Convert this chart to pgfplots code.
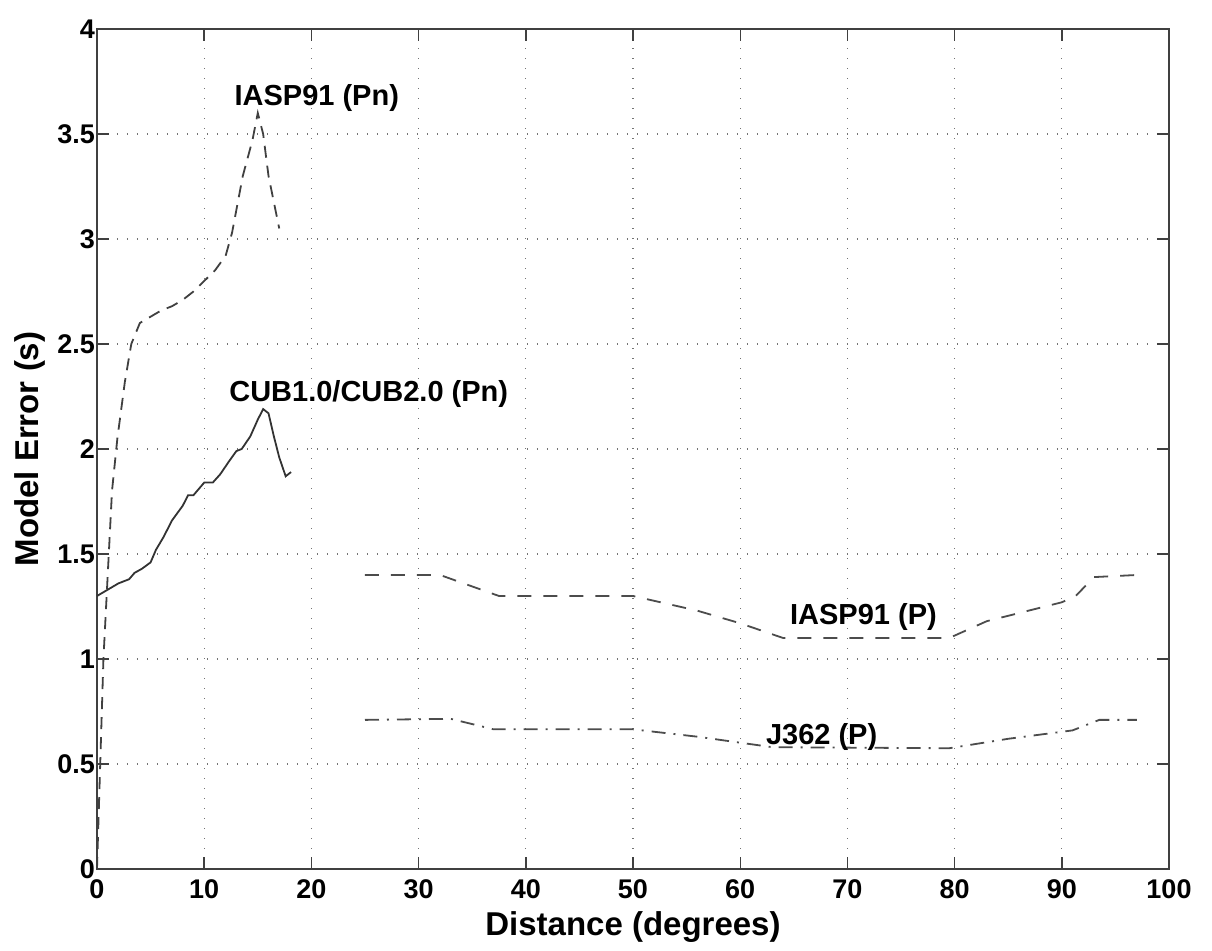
\documentclass[border=0pt]{standalone}
\usepackage{fontspec}
\setmainfont{Liberation Sans}
\usepackage{pgfplots}
\pgfplotsset{compat=1.18}

\begin{document}
\begin{tikzpicture}
\begin{axis}[
  scale only axis,
  width=536pt, height=420pt,
  xmin=0, xmax=100, ymin=0, ymax=4,
  xtick={0,10,...,100},
  ytick={0,0.5,...,4},
  yticklabels={0,0.5,1,1.5,2,2.5,3,3.5,4},
  tick align=inside,
  tick pos=both,
  major tick length=6pt,
  axis line style={black!75, line width=0.9pt},
  every tick/.style={black!75, line width=0.7pt},
  grid=major,
  major grid style={black!55, line width=0.6pt, dash pattern=on 0.6pt off 4.4pt},
  /pgf/number format/assume math mode=true,
  ticklabel style={font=\fontsize{13.5}{15}\selectfont\bfseries},
  xticklabel style={yshift=-2pt},
  yticklabel style={xshift=2.5pt},
  xlabel={Distance (degrees)},
  ylabel={Model Error (s)},
  every axis x label/.style={at={([yshift=-29pt]axis description cs:0.5,0)}, anchor=center,
    font=\fontsize{16.5}{18}\selectfont\bfseries},
  every axis y label/.style={at={([xshift=-33.5pt]axis description cs:0,0.5)}, anchor=center, rotate=90,
    font=\fontsize{16.5}{18}\selectfont\bfseries},
  clip=false,
]
% IASP91 (Pn)
\addplot[black!75, line width=0.9pt, dash pattern=on 6pt off 4pt] coordinates {
  (0,0) (0.3,0.5) (0.6,1.0) (1.0,1.4) (1.4,1.8) (1.9,2.05) (2.6,2.32)
  (3.2,2.5) (4,2.6) (5,2.63) (6,2.66) (7,2.68) (8,2.71) (9,2.75) (10,2.8)
  (11,2.85) (12,2.92) (12.6,3.03) (13.6,3.3) (14.5,3.47) (15,3.6)
  (15.5,3.5) (16,3.3) (17,3.05)
};
% CUB1.0/CUB2.0 (Pn)
\addplot[black!80, line width=0.9pt] coordinates {
  (0,1.3) (1,1.33) (2,1.36) (3,1.38) (3.5,1.41) (4.2,1.43) (5,1.46)
  (5.5,1.52) (6.2,1.58) (7,1.66) (8,1.73) (8.5,1.78) (9,1.78) (10,1.84)
  (10.8,1.84) (11.5,1.88) (12.3,1.94) (13,1.99) (13.5,2.0) (14.3,2.06)
  (15,2.14) (15.5,2.19) (16,2.17) (16.5,2.06) (17,1.96) (17.6,1.87) (18.1,1.89)
};
% IASP91 (P)
\addplot[black!70, line width=0.9pt, dash pattern=on 7pt off 6pt] coordinates {
  (25,1.4) (32,1.4) (37.5,1.3) (50,1.3) (56,1.23) (60,1.17) (64,1.1)
  (79.5,1.1) (83,1.18) (90,1.27) (91.3,1.3) (93,1.39) (97,1.4)
};
% J362 (P)
\addplot[black!70, line width=0.9pt, dash pattern=on 7pt off 4pt on 1pt off 4pt] coordinates {
  (25,0.71) (33,0.715) (37,0.665) (50,0.665) (56,0.63) (63,0.58)
  (79.5,0.575) (85,0.62) (91,0.66) (93.5,0.71) (97,0.71)
};
\begin{scope}[every node/.style={font=\fontsize{14.5}{16}\selectfont\bfseries, inner sep=0pt}]
\node at (axis cs:20.5,3.67) {IASP91 (Pn)};
\node at (axis cs:25.35,2.26) {CUB1.0/CUB2.0 (Pn)};
\node at (axis cs:71.5,1.2) {IASP91 (P)};
\node at (axis cs:67.6,0.63) {J362 (P)};
\end{scope}
\end{axis}
\pgfresetboundingbox
\path (-48.5pt,-41pt) rectangle (557.5pt,434.5pt);
\end{tikzpicture}
\end{document}
